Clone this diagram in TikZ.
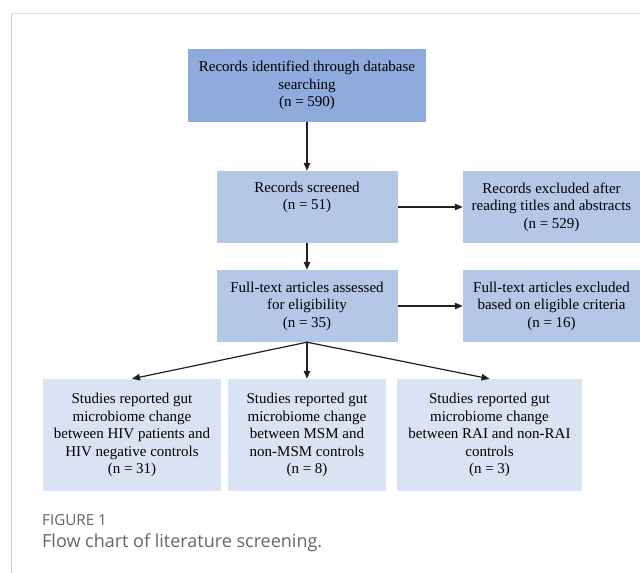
\documentclass[tikz,border=0pt]{standalone}
\usepackage{fontspec}
\setmainfont{Liberation Serif}
\newfontfamily\capfont{Open Sans}
\usepackage{tikz}
\usetikzlibrary{arrows.meta, positioning}
\definecolor{boxdark}{HTML}{8FAADC}
\definecolor{boxmid}{HTML}{B4C7E7}
\definecolor{boxlight}{HTML}{DAE3F3}
\definecolor{arrowgray}{HTML}{231F20}
\definecolor{capgray}{HTML}{666666}

\begin{document}
\begin{tikzpicture}[x=1pt, y=-1pt,
        box/.style={rectangle, inner sep=0pt, align=center, font=\fontsize{15}{17.5}\selectfont},
        flow/.style={-{Triangle[length=8pt, width=6.5pt]}, line width=1.2pt, arrowgray},
    ]
        \useasboundingbox[fill=white] (0,0) rectangle (640,573);

        % Panel frame
        \draw[gray!25, line width=1pt] (11,13.5) -- (640,13.5);
        \draw[gray!40, line width=1pt] (11,13.5) -- (11,573);

        % Main column
        \node[box, fill=boxdark, minimum width=238pt, minimum height=73pt] (ident) at (307,85.5) {Records identified through database\\searching\\(n = 590)};
        \node[box, fill=boxmid, minimum width=181pt, minimum height=72pt] (screen) at (307,207) {Records screened\\(n = 51)\\\strut};
        \node[box, fill=boxmid, minimum width=181pt, minimum height=72pt] (full) at (307,306) {Full-text articles assessed\\for eligibility\\(n = 35)};

        % Exclusion boxes
        \node[box, fill=boxmid, minimum width=177pt, minimum height=72pt] (exclA) at (551.5,207) {Records excluded after\\reading titles and abstracts\\(n = 529)};
        \node[box, fill=boxmid, minimum width=177pt, minimum height=72pt] (exclB) at (551.5,306) {Full-text articles excluded\\based on eligible criteria\\(n = 16)};

        % Study groups
        \node[box, fill=boxlight, minimum width=178pt, minimum height=112pt] (hiv) at (132,435) {Studies reported gut\\microbiome change\\between HIV patients and\\HIV negative controls\\(n = 31)};
        \node[box, fill=boxlight, minimum width=158pt, minimum height=112pt] (msm) at (307,435) {Studies reported gut\\microbiome change\\between MSM and\\non-MSM controls\\(n = 8)};
        \node[box, fill=boxlight, minimum width=185pt, minimum height=112pt] (rai) at (489.5,435) {Studies reported gut\\microbiome change\\between RAI and non-RAI\\controls\\(n = 3)};

        \draw[flow] (ident) -- (screen);
        \draw[flow] (screen) -- (full);
        \draw[flow] (screen) -- (exclA);
        \draw[flow] (full) -- (exclB);
        \foreach \n in {hiv, msm, rai}
            \draw[flow] (full.south) -- (\n.north);

        % Caption
        \node[anchor=west, inner sep=0pt, text=capgray, font=\capfont\fontsize{15.2}{17}\selectfont] (fig) at (42,520) {FIGURE 1};
        \node[anchor=west, inner sep=0pt, text=capgray, font=\capfont\fontsize{18}{21}\selectfont] (cap) at (42,543) {Flow chart of literature screening.};
    \end{tikzpicture}
\end{document}
